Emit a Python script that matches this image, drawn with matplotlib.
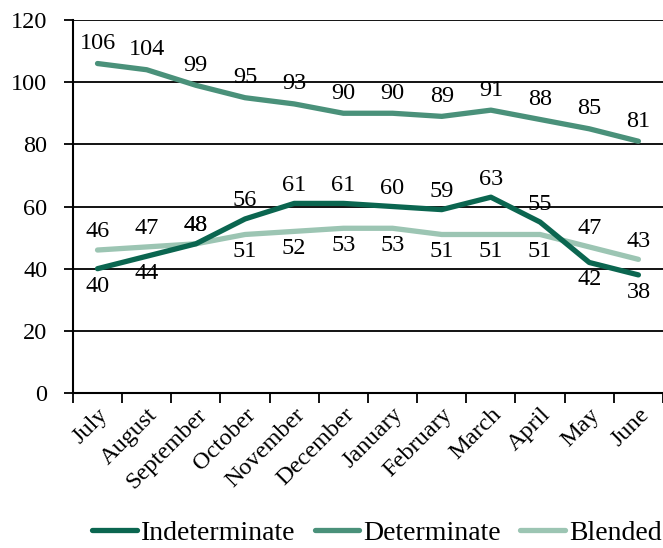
import matplotlib
matplotlib.use("Agg")
import matplotlib.pyplot as plt
from matplotlib.ticker import FixedLocator

months = ["July", "August", "September", "October", "November", "December",
          "January", "February", "March", "April", "May", "June"]
indeterminate = [40, 44, 48, 56, 61, 61, 60, 59, 63, 55, 42, 38]
determinate = [106, 104, 99, 95, 93, 90, 90, 89, 91, 88, 85, 81]
blended = [46, 47, 48, 51, 52, 53, 53, 51, 51, 51, 47, 43]

ind_pos = ["below", "below", "above", "above", "above", "above", "above", "above", "above", "above", "below", "below"]
bl_pos = ["above", "above", "above", "below", "below", "below", "below", "below", "below", "below", "above", "above"]

plt.rcParams['font.family'] = ['Liberation Serif', 'DejaVu Serif']

fig = plt.figure(figsize=(6.63, 5.48), dpi=100)
ax = fig.add_axes([0.110, 0.2828, 0.89, 0.6807])

c_ind = "#0b6650"
c_det = "#4a917a"
c_bl = "#9cc5b3"

x = list(range(len(months)))
ax.plot(x, indeterminate, color=c_ind, lw=3.8, solid_capstyle='round', label="Indeterminate", zorder=3)
ax.plot(x, determinate, color=c_det, lw=3.8, solid_capstyle='round', label="Determinate", zorder=3)
ax.plot(x, blended, color=c_bl, lw=3.8, solid_capstyle='round', label="Blended", zorder=2)

fs = 17.5


def lab(i, v, pos, up=13):
    dy = up if pos == "above" else -12.5
    ax.annotate(str(v), (i, v), xytext=(0, dy), textcoords='offset points',
                ha='center', va='center', fontsize=fs)


for i, v in enumerate(determinate):
    lab(i, v, "above", up=14.5)
for i, v in enumerate(indeterminate):
    lab(i, v, ind_pos[i])
for i, v in enumerate(blended):
    lab(i, v, bl_pos[i])

ax.set_xlim(-0.5, len(months) - 0.5)
ax.set_ylim(0, 120)
ax.set_yticks(range(0, 121, 20))
ax.yaxis.grid(True, color='black', lw=1.3)
ax.set_axisbelow(True)
ax.xaxis.set_major_locator(FixedLocator([i - 0.5 for i in range(len(months) + 1)]))
ax.set_xticklabels([])
ax.xaxis.set_minor_locator(FixedLocator(x))
ax.set_xticklabels(months, minor=True, rotation=45, ha='right', rotation_mode='anchor', fontsize=fs)
ax.tick_params(axis='x', which='minor', length=0, pad=8)
ax.tick_params(axis='x', which='major', length=7, width=1.3, direction='out')
ax.tick_params(axis='y', length=6.5, width=1.3, direction='out', labelsize=fs, pad=12)
for s in ['top', 'right']:
    ax.spines[s].set_visible(False)
for s in ['left', 'bottom']:
    ax.spines[s].set_linewidth(1.5)

fig.legend(loc='center right', bbox_to_anchor=(0.998, 1 - 533 / 548), ncol=3, frameon=False, fontsize=20,
           handlelength=1.6, handletextpad=0.15, columnspacing=0.7, borderpad=0.0, borderaxespad=0.0)

fig.savefig("out.png", dpi=100)
